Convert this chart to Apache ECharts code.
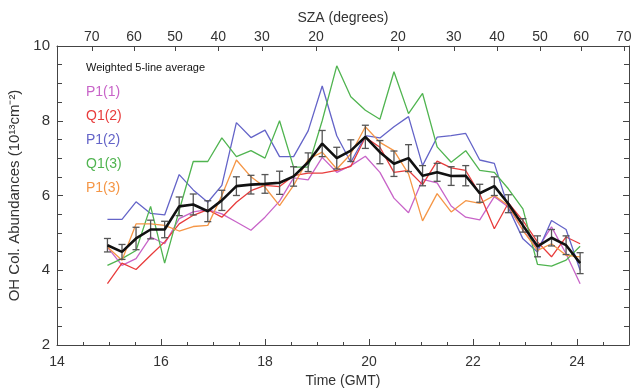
<!DOCTYPE html>
<html>
<head>
<meta charset="utf-8">
<script src="https://cdn.jsdelivr.net/npm/echarts@6/dist/echarts.min.js"></script>
<style>html,body{margin:0;padding:0;background:#fff;}#c{width:633px;height:389px;}</style>
</head>
<body>
<div id="c"></div>
<script>
// Observation times (GMT hours)
const times = [14.97, 15.25, 15.52, 15.80, 16.07, 16.35, 16.62, 16.90, 17.17, 17.45, 17.73, 18.00, 18.28, 18.55, 18.83, 19.10, 19.38, 19.65, 19.93, 20.21, 20.48, 20.76, 21.03, 21.31, 21.58, 21.86, 22.13, 22.41, 22.68, 22.96, 23.24, 23.51, 23.79, 24.06];
// Weighted 5-line average and its error
const avg = [4.67, 4.49, 4.85, 5.09, 5.09, 5.71, 5.76, 5.58, 5.87, 6.25, 6.29, 6.31, 6.34, 6.51, 6.89, 7.39, 7.0, 7.2, 7.57, 7.16, 6.85, 7.0, 6.53, 6.62, 6.52, 6.53, 6.06, 6.25, 5.78, 5.2, 4.64, 4.87, 4.67, 4.19];
const avgErr = [0.18, 0.2, 0.3, 0.25, 0.22, 0.25, 0.28, 0.28, 0.27, 0.25, 0.25, 0.25, 0.31, 0.26, 0.25, 0.35, 0.29, 0.29, 0.31, 0.31, 0.34, 0.36, 0.27, 0.24, 0.25, 0.27, 0.24, 0.25, 0.24, 0.18, 0.28, 0.22, 0.25, 0.28];
// Individual lines
const p1_1 = [4.62, 4.13, 4.31, 4.89, 4.71, 5.38, 5.56, 5.62, 5.51, 5.29, 5.07, 5.42, 5.85, 6.47, 6.42, 7.02, 6.62, 6.8, 7.05, 6.62, 5.93, 5.54, 6.43, 6.34, 5.72, 5.42, 5.35, 5.97, 5.69, 5.07, 4.58, 5.16, 4.44, 3.64];
const q1_2 = [3.64, 4.19, 4.02, 4.4, 4.76, 5.24, 5.47, 5.62, 5.42, 5.82, 6.13, 6.27, 6.24, 6.53, 6.6, 6.6, 6.67, 6.78, 7.56, 7.29, 6.62, 6.67, 6.29, 6.92, 6.74, 6.67, 6.04, 5.11, 5.8, 5.33, 4.76, 4.36, 4.89, 4.71];
const p1_2 = [5.36, 5.36, 5.83, 5.52, 5.48, 6.56, 6.15, 5.82, 6.27, 7.95, 7.55, 7.75, 7.04, 7.04, 7.73, 8.93, 7.6, 6.89, 7.6, 7.54, 7.84, 8.11, 6.8, 7.56, 7.6, 7.66, 6.95, 6.86, 5.67, 4.84, 4.49, 5.33, 5.09, 4.0];
const q1_3 = [4.13, 4.31, 4.53, 5.71, 4.19, 5.6, 6.91, 6.91, 7.54, 7.04, 7.2, 7.0, 8.0, 6.76, 6.76, 8.0, 9.47, 8.64, 8.28, 8.04, 9.31, 8.19, 8.73, 7.3, 6.89, 7.2, 6.67, 6.62, 6.18, 5.64, 4.16, 4.11, 4.27, 4.64];
const p1_3 = [4.62, 4.27, 5.24, 5.24, 5.2, 5.05, 5.17, 5.2, 6.0, 6.95, 6.5, 6.22, 5.73, 6.27, 6.97, 7.16, 6.71, 7.11, 7.84, 7.42, 7.2, 6.58, 5.32, 6.05, 5.56, 5.86, 5.79, 6.0, 5.73, 5.07, 4.53, 4.71, 4.4, 4.36];
// Top SZA axis: tick times and labels
const szaTimes = [14.67, 15.48, 16.27, 17.1, 17.94, 18.98, 20.56, 21.63, 22.46, 23.29, 24.08, 24.9];
const szaLabels = ['70', '60', '50', '40', '30', '20', '20', '30', '40', '50', '60', '70'];

const lineNames = ['P1(1)', 'Q1(2)', 'P1(2)', 'Q1(3)', 'P1(3)'];
const lineData = [p1_1, q1_2, p1_2, q1_3, p1_3];
const lineColors = ['#c864c8', '#e83c3c', '#6464c8', '#50b450', '#f59646'];
const avgName = 'Weighted 5-line average';

const zip = (ys) => times.map((t, i) => [t, ys[i]]);
const FONT = 'Liberation Sans, Arial, sans-serif';
const AX = '#444';
const TXT = '#333';

const chart = echarts.init(document.getElementById('c'), null, {renderer: 'canvas'});

const series = lineData.map((ys, k) => ({
  name: lineNames[k], type: 'line', data: zip(ys), symbol: 'none',
  lineStyle: {color: lineColors[k], width: 1.3}, itemStyle: {color: lineColors[k]},
  z: 2, silent: true
}));
series.push({
  name: 'err', type: 'custom', z: 3, silent: true,
  data: times.map((t, i) => [t, avg[i] - avgErr[i], avg[i] + avgErr[i]]),
  encode: {x: 0, y: [1, 2]},
  renderItem: function (params, api) {
    const x = api.value(0);
    const lo = api.coord([x, api.value(1)]);
    const hi = api.coord([x, api.value(2)]);
    const w = 3.5;
    const st = {stroke: '#555', lineWidth: 1.3};
    return {type: 'group', children: [
      {type: 'line', shape: {x1: lo[0], y1: lo[1], x2: hi[0], y2: hi[1]}, style: st},
      {type: 'line', shape: {x1: lo[0] - w, y1: lo[1], x2: lo[0] + w, y2: lo[1]}, style: st},
      {type: 'line', shape: {x1: hi[0] - w, y1: hi[1], x2: hi[0] + w, y2: hi[1]}, style: st}
    ]};
  }
});
series.push({
  name: avgName, type: 'line', data: zip(avg), symbol: 'none',
  lineStyle: {color: '#111', width: 2.6}, itemStyle: {color: '#111'}, z: 4, silent: true
});

const tickCommon = {show: true, inside: true, length: 6, lineStyle: {color: AX}};

chart.setOption({
  animation: false,
  textStyle: {fontFamily: FONT},
  grid: {left: 57, right: 4, top: 46, bottom: 44, outerBoundsMode: 'none', containLabel: false},
  legend: {
    orient: 'vertical', left: 76, top: 55, icon: 'none', itemWidth: 0, itemGap: 8,
    selectedMode: false,
    textStyle: {fontSize: 14, lineHeight: 16, fontFamily: FONT},
    data: [{name: avgName, textStyle: {color: '#111', fontSize: 11, lineHeight: 16}}]
      .concat(lineNames.map((n, k) => ({name: n, textStyle: {color: lineColors[k], fontSize: 14, lineHeight: 16}})))
  },
  xAxis: [
    {
      type: 'value', min: 14, max: 25, interval: 2, position: 'bottom',
      name: 'Time (GMT)', nameLocation: 'middle', nameGap: 29,
      nameTextStyle: {fontSize: 14, color: TXT},
      axisLine: {show: true, lineStyle: {color: AX}},
      axisTick: tickCommon,
      minorTick: {show: true, splitNumber: 4, length: 3, lineStyle: {color: AX}},
      axisLabel: {fontSize: 14, color: TXT, margin: 10, showMaxLabel: false},
      splitLine: {show: false}
    },
    {
      type: 'value', min: 14, max: 25, position: 'top',
      name: 'SZA (degrees)', nameLocation: 'middle', nameGap: 18,
      nameTextStyle: {fontSize: 14, color: TXT},
      axisLine: {show: true, lineStyle: {color: AX}},
      axisTick: {show: true, inside: true, length: 5, lineStyle: {color: AX}, customValues: szaTimes},
      axisLabel: {
        fontSize: 14, color: TXT, margin: 2, customValues: szaTimes,
        formatter: function (v) {
          let best = 0;
          for (let i = 1; i < szaTimes.length; i++) {
            if (Math.abs(szaTimes[i] - v) < Math.abs(szaTimes[best] - v)) best = i;
          }
          return szaLabels[best];
        }
      },
      splitLine: {show: false}
    }
  ],
  yAxis: [
    {
      type: 'value', min: 2, max: 10, interval: 2, position: 'left',
      name: 'OH Col. Abundances (10\u00b9\u00b3cm\u207b\u00b2)', nameLocation: 'middle', nameGap: 30,
      nameTextStyle: {fontSize: 15, color: TXT},
      axisLine: {show: true, lineStyle: {color: AX}},
      axisTick: tickCommon,
      minorTick: {show: true, splitNumber: 4, length: 5, lineStyle: {color: AX}},
      axisLabel: {fontSize: 15, color: TXT, margin: 7},
      splitLine: {show: false}
    },
    {
      type: 'value', min: 2, max: 10, interval: 2, position: 'right',
      axisLine: {show: true, lineStyle: {color: AX}},
      axisTick: tickCommon,
      minorTick: {show: true, splitNumber: 4, length: 5, lineStyle: {color: AX}},
      axisLabel: {show: false},
      splitLine: {show: false}
    }
  ],
  series: series
});
</script>
</body>
</html>
